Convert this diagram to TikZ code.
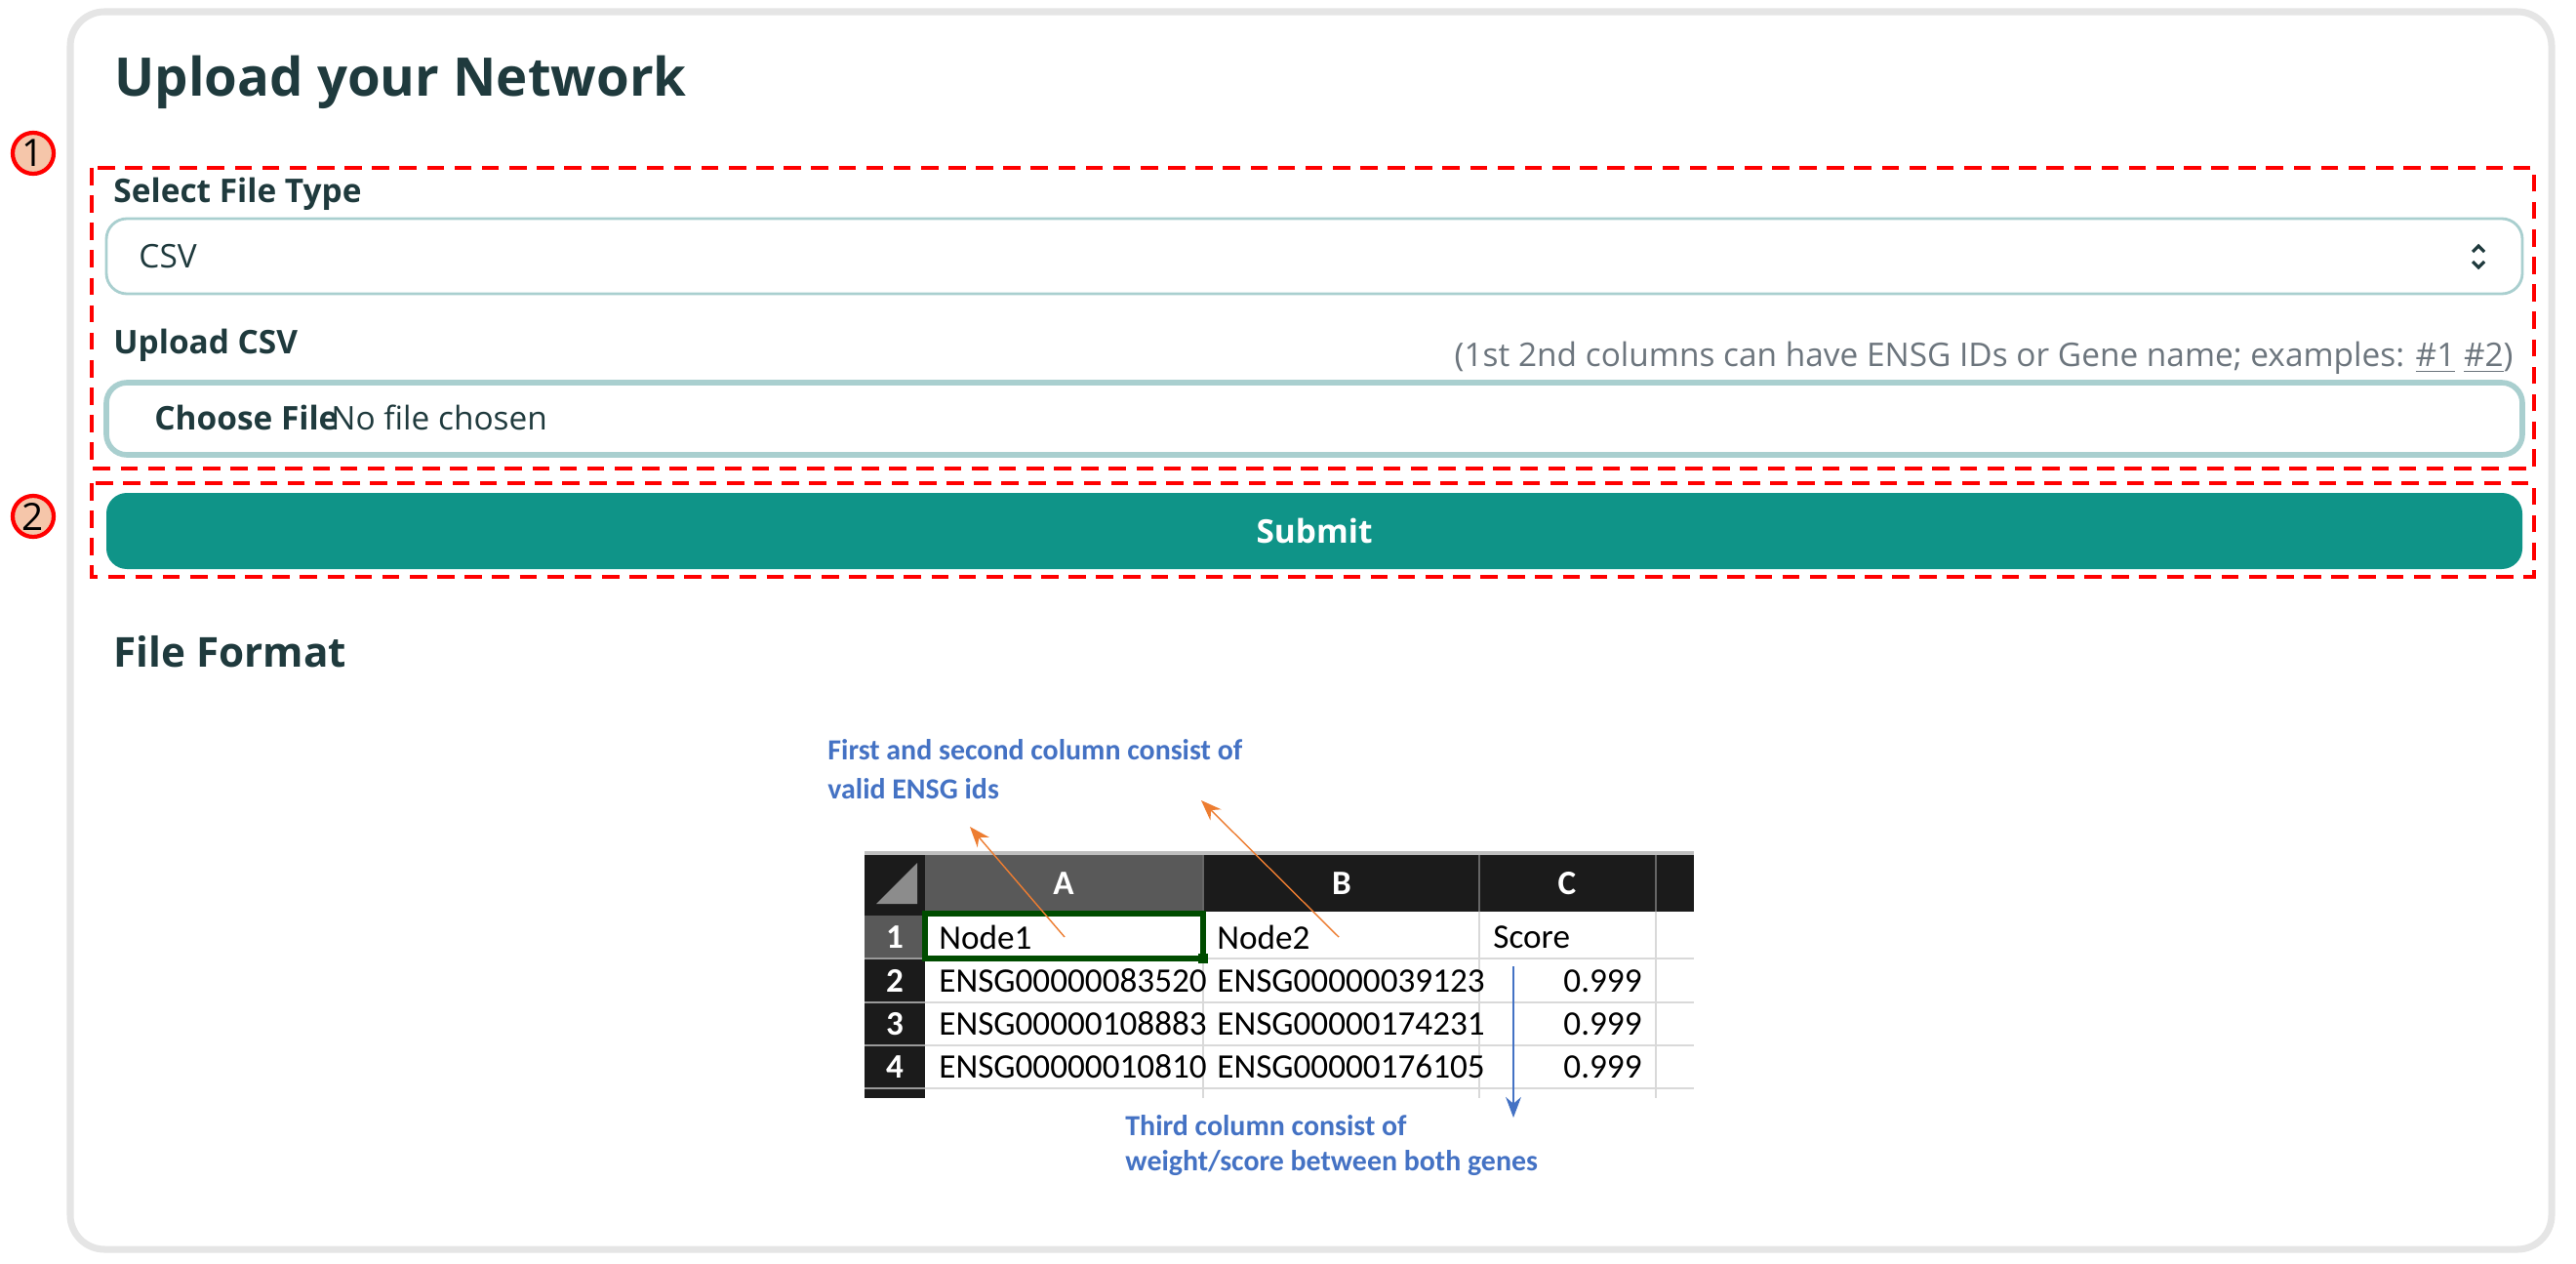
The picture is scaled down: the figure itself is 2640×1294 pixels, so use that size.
\documentclass[tikz,border=0pt]{standalone}
\usepackage{fontspec}
\setmainfont{Open Sans}
\newfontfamily\calfont{Carlito}
\usepackage{tikz}
\usetikzlibrary{arrows.meta}
\definecolor{ink}{HTML}{1F3A3D}
\definecolor{teal}{HTML}{0F9488}
\definecolor{boxline}{HTML}{A9CFCF}
\definecolor{hint}{HTML}{6C757D}
\definecolor{xlblue}{HTML}{4472C4}
\definecolor{xlorange}{HTML}{ED7D31}
\definecolor{xlhead}{HTML}{1B1B1B}
\definecolor{xlsel}{HTML}{595959}
\definecolor{badge}{HTML}{F5C6AA}
\tikzset{
  label/.style={anchor=west, text=ink, font=\fontsize{9.5}{11}\selectfont\bfseries},
  field/.style={draw=boxline, line width=1.2pt, rounded corners=6pt},
  mark box/.style={draw=red, dashed, line width=1.2pt, dash pattern=on 5pt off 3pt},
  badge/.style={circle, draw=red, fill=badge, line width=1.2pt, minimum size=0.42cm, inner sep=0pt, font=\fontsize{11}{12}\selectfont},
  cell/.style={anchor=west, font=\calfont\fontsize{10}{11}\selectfont},
  note/.style={anchor=west, text=xlblue, font=\calfont\fontsize{8.5}{10}\selectfont\bfseries}
}
\begin{document}
\begin{tikzpicture}[x=0.01cm, y=-0.01cm]
    \useasboundingbox (0,0) rectangle (2640,1294);

    % Card
    \draw[draw=black!10, line width=2pt, fill=white, rounded corners=10pt] (72,12) rectangle (2615,1280);
    \node[anchor=west, text=ink, font=\fontsize{15.5}{18}\selectfont\bfseries] (title) at (105,84) {Upload your Network};

    % Markers
    \node[badge] (b1) at (34,157) {1};
    \node[badge] (b2) at (34,529) {2};
    \draw[mark box] (94,172) rectangle (2597,480);
    \draw[mark box] (94,495) rectangle (2597,591);

    % File type
    \node[label] (seltype) at (104,199) {Select File Type};
    \draw[field, line width=0.8pt] (109,224) rectangle (2585,301);
    \node[anchor=west, text=ink, font=\fontsize{9.5}{11}\selectfont] (csv) at (130,263) {CSV};
    \draw[ink, line width=0.9pt] (2534,258) -- (2540,252) -- (2546,258) (2534,268) -- (2540,274) -- (2546,268);

    % Upload
    \node[label] (upload) at (104,354) {Upload CSV};
    \node[anchor=east, text=hint, font=\fontsize{9.5}{11}\selectfont] (hintline) at (2588,367)
        {(1st 2nd columns can have ENSG IDs or Gene name; examples: \underline{\#1} \underline{\#2})};
    \draw[field, line width=1.6pt] (109,392) rectangle (2585,466);
    \node[anchor=west, text=ink, font=\fontsize{9.5}{11}\selectfont\bfseries] (choose) at (146,428) {Choose File};
    \node[anchor=west, text=ink, font=\fontsize{9.5}{11}\selectfont] (nofile) at (327,428) {No file chosen};

    % Submit
    \fill[teal, rounded corners=6pt] (109,505) rectangle (2585,583);
    \node[text=white, font=\fontsize{9.5}{11}\selectfont\bfseries] (submit) at (1347,544) {Submit};

    % File format
    \node[anchor=west, text=ink, font=\fontsize{12}{14}\selectfont\bfseries] (format) at (104,668) {File Format};

    % Sheet
    \fill[black!25] (886,872) rectangle (1736,876);
    \fill[xlhead] (886,876) rectangle (1736,934);
    \fill[xlsel] (948,876) rectangle (1233,934);
    \fill[xlhead] (886,934) rectangle (948,1125);
    \fill[xlsel] (886,938) rectangle (948,982);
    \fill[black!45] (898,926) -- (940,884) -- (940,926) -- cycle;
    \foreach \x in {1233,1516,1697} \draw[black!60, line width=0.6pt] (\x,876) -- (\x,934);
    \foreach \x in {1233,1516,1697} \draw[black!15, line width=0.6pt] (\x,934) -- (\x,1125);
    \foreach \y in {982,1027,1071,1115} \draw[black!15, line width=0.6pt] (948,\y) -- (1736,\y);
    \foreach \y in {982,1027,1071,1115} \draw[black!40, line width=0.6pt] (886,\y) -- (948,\y);
    \draw[black!70!green, line width=1.6pt] (948,936) rectangle (1233,982);
    \fill[black!70!green] (1228,977) rectangle (1238,987);
    \foreach \c/\x in {A/1090,B/1375,C/1606}
        \node[text=white, font=\calfont\fontsize{10}{11}\selectfont\bfseries] (hd\c) at (\x,905) {\c};
    \foreach \r/\y in {1/960,2/1005,3/1049,4/1093}
        \node[text=white, font=\calfont\fontsize{10}{11}\selectfont\bfseries] (rn\r) at (917,\y) {\r};
    \node[cell] (n1) at (950,960) {Node1};
    \node[cell] (n2) at (1235,960) {Node2};
    \node[cell] (sc) at (1518,960) {Score};
    \foreach \r/\y/\a/\b in {2/1005/ENSG00000083520/ENSG00000039123, 3/1049/ENSG00000108883/ENSG00000174231, 4/1093/ENSG00000010810/ENSG00000176105} {
        \node[cell] (a\r) at (950,\y) {\a};
        \node[cell] (b\r) at (1235,\y) {\b};
        \node[cell, anchor=east] (c\r) at (1695,\y) {0.999};
    }

    % Notes
    \node[note] (note1) at (836,768) {First and second column consist of};
    \node[note] (note1b) at (836,808) {valid ENSG ids};
    \node[note] (note2) at (1141,1153) {Third column consist of};
    \node[note] (note2b) at (1141,1192) {weight/score between both genes};
    \coordinate (t1) at (994,847);
    \coordinate (t2) at (1231,820);
    \coordinate (t3) at (1551,1145);
    \draw[xlorange, -{Stealth[length=6pt]}] (1091,960) -- (t1);
    \draw[xlorange, -{Stealth[length=6pt]}] (1372,960) -- (t2);
    \draw[xlblue, -{Stealth[length=6pt]}] (1551,990) -- (t3);
\end{tikzpicture}
\end{document}
